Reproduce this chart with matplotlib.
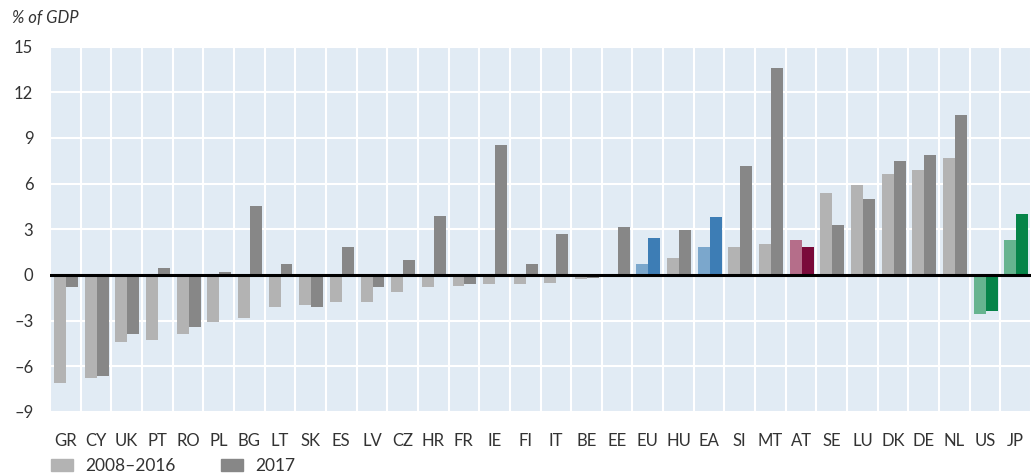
# Current account balance, % of GDP (2008-2016 average vs 2017)

import numpy as np
import matplotlib.pyplot as plt
from matplotlib.patches import Patch

plt.rcParams['font.family'] = ['Lato', 'DejaVu Sans']
plt.rcParams['axes.unicode_minus'] = False

# data
countries = ['GR', 'CY', 'UK', 'PT', 'RO', 'PL', 'BG', 'LT', 'SK', 'ES', 'LV', 'CZ',
             'HR', 'FR', 'IE', 'FI', 'IT', 'BE', 'EE', 'EU', 'HU', 'EA', 'SI', 'MT',
             'AT', 'SE', 'LU', 'DK', 'DE', 'NL', 'US', 'JP']
avg_2008_2016 = [-7.1, -6.8, -4.4, -4.3, -3.9, -3.1, -2.8, -2.1, -2.0, -1.8, -1.8, -1.1,
                 -0.8, -0.7, -0.6, -0.6, -0.5, -0.3, 0.0, 0.7, 1.1, 1.85, 1.85, 2.05,
                 2.3, 5.4, 5.9, 6.6, 6.9, 7.65, -2.55, 2.3]
val_2017 = [-0.8, -6.65, -3.9, 0.45, -3.4, 0.2, 4.5, 0.75, -2.1, 1.85, -0.8, 1.0,
            3.9, -0.6, 8.5, 0.7, 2.7, -0.2, 3.15, 2.45, 2.95, 3.8, 7.15, 13.6,
            1.85, 3.3, 5.0, 7.5, 7.85, 10.5, -2.35, 4.0]
yticks = [-9, -6, -3, 0, 3, 6, 9, 12, 15]

# colour pairs (light = 2008-2016, dark = 2017)
light = ['#b3b3b3'] * len(countries)
dark = ['#878787'] * len(countries)
for c in ['EU', 'EA']:
    light[countries.index(c)] = '#7ba7cc'
    dark[countries.index(c)] = '#3d7db5'
light[countries.index('AT')] = '#b56e8a'
dark[countries.index('AT')] = '#7a0a3a'
for c in ['US', 'JP']:
    light[countries.index(c)] = '#66b48f'
    dark[countries.index(c)] = '#068449'

fig = plt.figure(figsize=(10.31, 4.76), dpi=100)
ax = fig.add_axes([0.0485, 0.1345, 0.9515, 0.7678])
ax.set_facecolor('#e1ebf4')

x = np.arange(len(countries))
w = 0.39
ax.bar(x - w / 2 + 0.02, avg_2008_2016, w, color=light, zorder=3)
ax.bar(x + w / 2 + 0.02, val_2017, w, color=dark, zorder=3)
ax.axhline(0, color='black', lw=2.2, zorder=4)

ax.set_xlim(-0.5, len(countries) - 0.5)
ax.set_ylim(-9, 15)
ax.set_yticks(yticks)
ax.set_yticklabels([str(v).replace('-', '\u2013') for v in yticks])
ax.set_xticks(x)
ax.set_xticklabels(countries)
ax.set_xticks(np.arange(len(countries) + 1) - 0.5, minor=True)
ax.grid(True, which='minor', axis='x', color='white', lw=1.5, zorder=1)
ax.grid(True, which='major', axis='y', color='white', lw=1.5, zorder=1)
ax.tick_params(axis='both', which='both', length=0, labelsize=12, labelcolor='#333333')
ax.tick_params(axis='x', pad=15)
ax.tick_params(axis='y', pad=12)
for s in ax.spines.values():
    s.set_visible(False)

fig.text(0.012, 0.963, '% of GDP', fontsize=12, style='italic', color='#333333', va='center')

handles = [Patch(color='#b3b3b3', label='2008\u20132016'), Patch(color='#878787', label='2017')]
fig.legend(handles=handles, loc='center left', bbox_to_anchor=(0.049, 0.02), ncol=2, frameon=False,
           fontsize=12.5, handlelength=1.3, handleheight=0.7, handletextpad=0.7,
           columnspacing=2.6, labelcolor='#333333', borderpad=0, borderaxespad=0)

plt.savefig('out.png', dpi=100)
plt.close()
